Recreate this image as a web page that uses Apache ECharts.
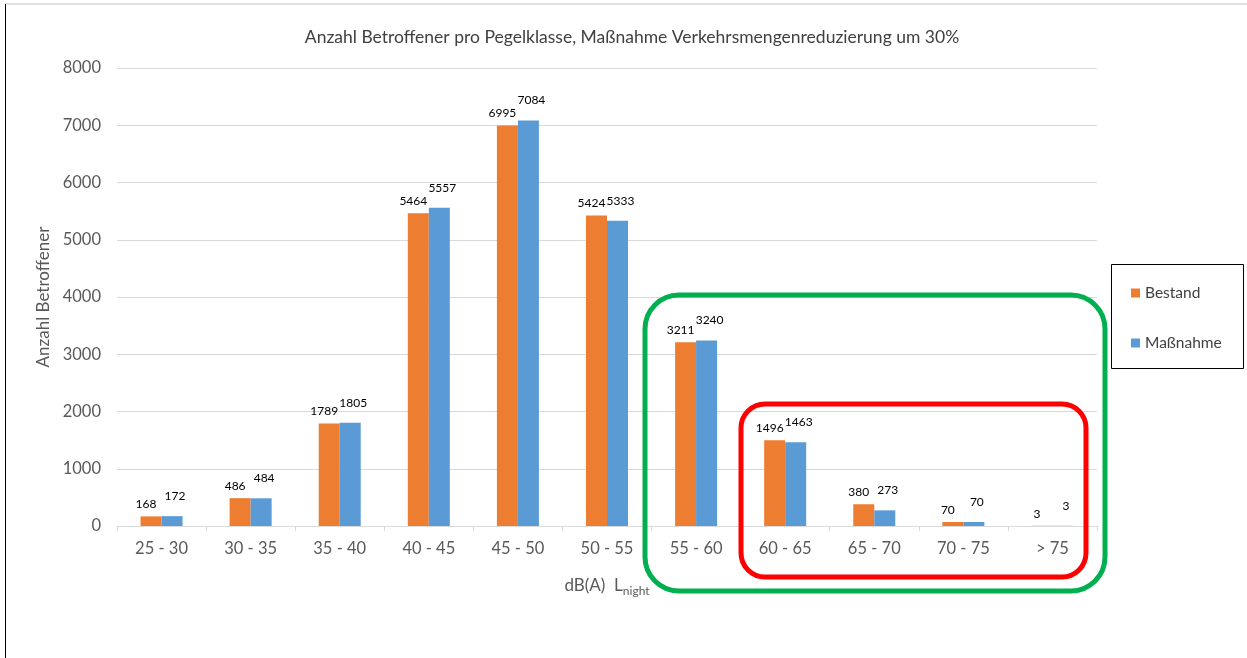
<!DOCTYPE html>
<html>
<head>
<meta charset="utf-8">
<script src="https://cdn.jsdelivr.net/npm/echarts@6/dist/echarts.min.js"></script>
<style>
  html, body { margin: 0; padding: 0; background: #fff; }
  #chart { width: 1247px; height: 658px; }
</style>
</head>
<body>
<div id="chart"></div>
<script>
// Pegelklassen und Werte
const categories = ['25 - 30', '30 - 35', '35 - 40', '40 - 45', '45 - 50', '50 - 55', '55 - 60', '60 - 65', '65 - 70', '70 - 75', '> 75'];
const bestand = [168, 486, 1789, 5464, 6995, 5424, 3211, 1496, 380, 70, 3];
const massnahme = [172, 484, 1805, 5557, 7084, 5333, 3240, 1463, 273, 70, 3];
const yTicks = [0, 1000, 2000, 3000, 4000, 5000, 6000, 7000, 8000];

const font = 'Lato, "Open Sans", sans-serif';
const chart = echarts.init(document.getElementById('chart'));

chart.setOption({
  animation: false,
  title: {
    text: 'Anzahl Betroffener pro Pegelklasse, Maßnahme Verkehrsmengenreduzierung um 30%',
    left: 627,
    textAlign: 'center',
    top: 23,
    textStyle: { fontFamily: font, fontSize: 17.5, fontWeight: 'normal', color: '#404040' }
  },
  legend: {
    orient: 'vertical',
    left: 1126,
    top: 280,
    itemGap: 34,
    itemWidth: 9,
    itemHeight: 9,
    icon: 'rect',
    textStyle: { fontFamily: font, fontSize: 15.5, color: '#404040' },
    data: ['Bestand', 'Maßnahme']
  },
  grid: { left: 117, right: 150, top: 68, bottom: 132 },
  xAxis: {
    type: 'category',
    data: categories,
    name: '{a|dB(A)  L}{b|night}',
    nameLocation: 'middle',
    nameGap: 48,
    nameTextStyle: {
      rich: {
        a: { fontFamily: font, fontSize: 17, color: '#595959' },
        b: { fontFamily: font, fontSize: 12, color: '#595959', padding: [11, 0, 0, 0] }
      }
    },
    axisLine: { lineStyle: { color: '#d9d9d9' } },
    axisTick: { show: true, length: 5, lineStyle: { color: '#d9d9d9' } },
    axisLabel: { fontFamily: font, fontSize: 16.5, color: '#595959', margin: 14 }
  },
  yAxis: {
    type: 'value',
    min: yTicks[0],
    max: yTicks[yTicks.length - 1],
    interval: 1000,
    name: 'Anzahl Betroffener',
    nameLocation: 'middle',
    nameGap: 65,
    nameTextStyle: { fontFamily: font, fontSize: 17, color: '#595959' },
    axisLine: { show: false },
    axisTick: { show: false },
    splitLine: { lineStyle: { color: '#d9d9d9' } },
    axisLabel: { fontFamily: font, fontSize: 16.5, color: '#595959', margin: 16, formatter: v => String(v) }
  },
  series: [
    {
      name: 'Bestand',
      type: 'bar',
      data: bestand,
      barWidth: 21,
      barGap: '0%',
      itemStyle: { color: '#ed7d31' },
      label: { show: true, position: 'top', distance: 6, offset: [-5, 0], fontFamily: font, fontSize: 12, color: '#000' }
    },
    {
      name: 'Maßnahme',
      type: 'bar',
      data: massnahme,
      barWidth: 21,
      itemStyle: { color: '#5b9bd5' },
      label: { show: true, position: 'top', distance: 14, offset: [3, 0], fontFamily: font, fontSize: 12, color: '#000' }
    }
  ],
  graphic: [
    { type: 'line', shape: { x1: 5, y1: 4, x2: 1247, y2: 4 }, style: { stroke: '#bfbfbf', lineWidth: 1 } },
    { type: 'line', shape: { x1: 5.5, y1: 4, x2: 5.5, y2: 658 }, style: { stroke: '#000', lineWidth: 1 } },
    { type: 'rect', shape: { x: 1111.5, y: 264.5, width: 132, height: 104 }, style: { fill: 'none', stroke: '#000', lineWidth: 1 } },
    { type: 'rect', shape: { x: 645, y: 295, width: 460, height: 296, r: 34 }, style: { fill: 'none', stroke: '#00b050', lineWidth: 5 }, z: 10 },
    { type: 'rect', shape: { x: 741, y: 404, width: 345, height: 173, r: 24 }, style: { fill: 'none', stroke: '#ff0000', lineWidth: 5 }, z: 10 }
  ]
});
</script>
</body>
</html>
